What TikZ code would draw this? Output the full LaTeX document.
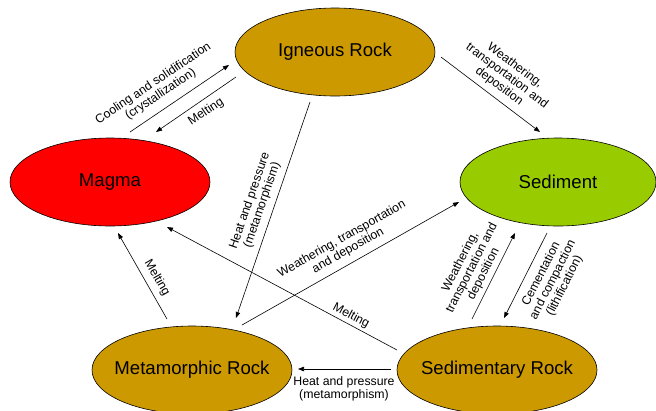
\documentclass[tikz,border=0pt]{standalone}
\usepackage{fontspec}
\setmainfont{Liberation Sans}
\usetikzlibrary{shapes.geometric,arrows.meta}
\definecolor{gold}{HTML}{CC9900}
\definecolor{magmared}{HTML}{FF0000}
\definecolor{sedgreen}{HTML}{99CC00}
\newcommand{\rocktext}[1]{\makebox[0pt]{#1}}
\begin{document}
\begin{tikzpicture}[x=1pt,y=-1pt,
 rock/.style={ellipse, draw=black, line width=0.6pt, minimum width=200pt, minimum height=88pt, inner sep=0pt, font=\fontsize{18.6}{20}\selectfont},
 conn/.style={-{Triangle[length=6pt,width=4.5pt]}, line width=0.6pt},
 lbl/.style={font=\fontsize{12.3}{13}\selectfont, align=center, inner sep=0pt}]
\useasboundingbox (0,0) rectangle (656,410);
\node[rock, fill=gold] (ign) at (335,52) {\rocktext{Igneous Rock}};
\node[rock, fill=magmared] (mag) at (110,182) {\rocktext{Magma}};
\node[rock, fill=sedgreen, minimum width=196pt] (sed) at (558,182) {\rocktext{Sediment}};
\node[rock, fill=gold] (met) at (192,370) {\rocktext{Metamorphic Rock}};
\node[rock, fill=gold] (sdr) at (497,370) {\rocktext{Sedimentary Rock}};
% endpoints
\coordinate (c1s) at (130,132); \coordinate (c1e) at (229,65);
\coordinate (c2s) at (236,77);  \coordinate (c2e) at (156,132);
\coordinate (c3s) at (441,57);  \coordinate (c3e) at (540,132);
\coordinate (c4s) at (310,102); \coordinate (c4e) at (236,318);
\coordinate (c5s) at (242,325); \coordinate (c5e) at (459,202);
\coordinate (c6s) at (397,350); \coordinate (c6e) at (167,227);
\coordinate (c7s) at (167,319); \coordinate (c7e) at (118,233);
\coordinate (c8s) at (472,319); \coordinate (c8e) at (515,233);
\coordinate (c9s) at (547,233); \coordinate (c9e) at (504,318);
\coordinate (c10s) at (391,369); \coordinate (c10e) at (298,369);
\draw[conn] (c1s) -- (c1e);
\draw[conn] (c2s) -- (c2e);
\draw[conn] (c3s) -- (c3e);
\draw[conn] (c4s) -- (c4e);
\draw[conn] (c5s) -- (c5e);
\draw[conn] (c6s) -- (c6e);
\draw[conn] (c7s) -- (c7e);
\draw[conn] (c8s) -- (c8e);
\draw[conn] (c9s) -- (c9e);
\draw[conn] (c10s) -- (c10e);
% labels
\node[lbl, rotate=34] (l1) at (157,89) {Cooling and solidification\\(crystallization)};
\node[lbl, rotate=34] (l2) at (206,112) {Melting};
\node[lbl, rotate=-37] (l3) at (507,76) {Weathering,\\transportation and\\deposition};
\node[lbl, rotate=71] (l4) at (256,203) {Heat and pressure\\(metamorphism)};
\node[lbl, rotate=29.5] (l5) at (345,245) {Weathering, transportation\\and deposition};
\node[lbl, rotate=-28] (l6) at (351,316) {Melting};
\node[lbl, rotate=-60] (l7) at (157,278) {Melting};
\node[lbl, rotate=63] (l8) at (472,268) {Weathering,\\transportation and\\deposition};
\node[lbl, rotate=63] (l9) at (553,280) {Cementation\\and compaction\\(lithification)};
\node[lbl] (l10) at (344,389) {Heat and pressure\\(metamorphism)};
\end{tikzpicture}
\end{document}
